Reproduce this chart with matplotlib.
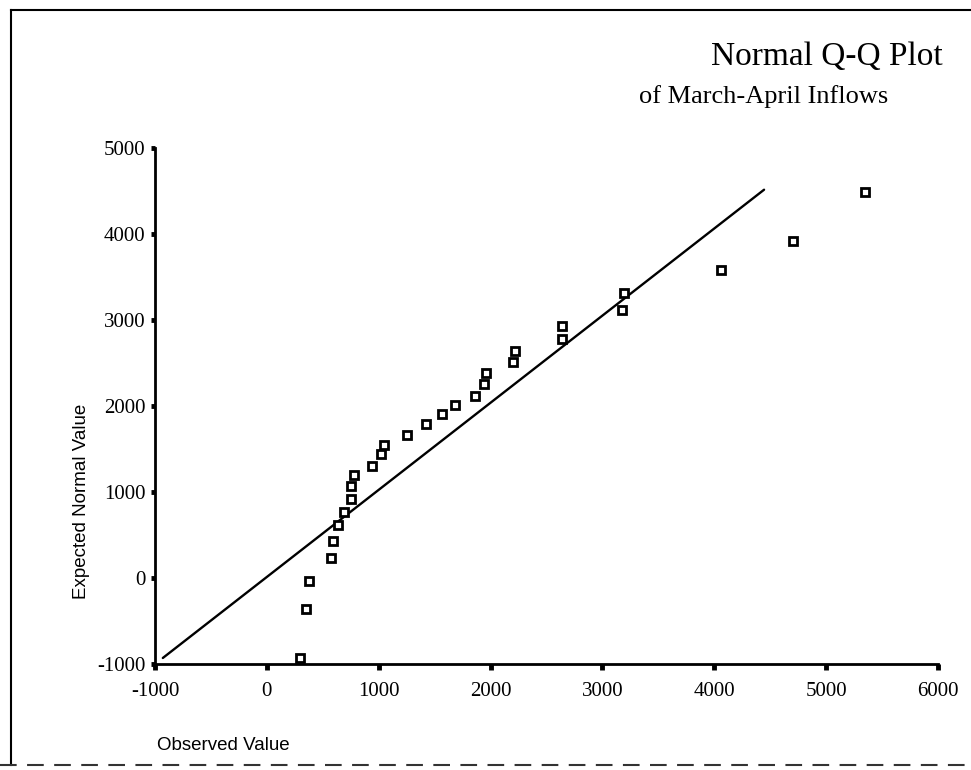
import matplotlib
matplotlib.use("Agg")
import matplotlib.pyplot as plt
from matplotlib.lines import Line2D

# Data
observed = [295, 346, 381, 569, 593, 632, 694, 748, 751, 775, 936, 1019, 1049,
            1257, 1419, 1562, 1683, 1857, 1937, 1955, 2199, 2214, 2637, 2640,
            3177, 3195, 4064, 4705, 5346]
expected = [-935, -360, -31, 229, 434, 620, 771, 915, 1066, 1198, 1306, 1438,
            1547, 1663, 1787, 1903, 2008, 2120, 2256, 2384, 2512, 2640, 2779,
            2934, 3112, 3318, 3585, 3919, 4492]
line_x = [-930, 4445]
line_y = [-930, 4515]
xticks = [-1000, 0, 1000, 2000, 3000, 4000, 5000, 6000]
yticks = [-1000, 0, 1000, 2000, 3000, 4000, 5000]

W, H = 971, 770
fig = plt.figure(figsize=(W / 100, H / 100), dpi=100)
ax = fig.add_axes([155 / W, 1 - 664 / H, (938 - 155) / W, (664 - 148) / H])

ax.plot(line_x, line_y, color="black", lw=1.7, solid_capstyle="round")
ax.plot(observed, expected, linestyle="none", marker="s", ms=5.8,
        mfc="white", mec="black", mew=2.0, clip_on=False, zorder=3)

ax.set_xlim(-1000, 6000)
ax.set_ylim(-1000, 5000)
ax.set_xticks(xticks)
ax.set_yticks(yticks)
ax.set_xticklabels([str(v) for v in xticks], family="Liberation Serif", fontsize=15)
ax.set_yticklabels([str(v) for v in yticks], family="Liberation Serif", fontsize=15)
ax.tick_params(axis="x", direction="out", length=4, width=3.5, pad=9)
ax.tick_params(axis="y", direction="out", length=3, width=3.5, pad=4)

for s in ["top", "right"]:
    ax.spines[s].set_visible(False)
for s in ["left", "bottom"]:
    ax.spines[s].set_linewidth(2.0)

# Titles and labels
fig.text(943 / W, 1 - 65 / H, "Normal Q-Q Plot", family="Liberation Serif",
         fontsize=24, ha="right", va="baseline")
fig.text(888 / W, 1 - 103 / H, "of March-April Inflows", family="Liberation Serif",
         fontsize=19, ha="right", va="baseline")
fig.text(157 / W, 1 - 750 / H, "Observed Value", family="Liberation Sans",
         fontsize=13.5, ha="left", va="baseline")
fig.text(81 / W, 1 - 501 / H, "Expected Normal Value", family="Liberation Sans",
         fontsize=13.5, rotation=90, ha="center", va="center")

# Page frame
fig.add_artist(Line2D([11 / W, 11 / W], [1 - 765 / H, 1 - 10 / H], color="black", lw=1.5,
                      transform=fig.transFigure))
fig.add_artist(Line2D([11 / W, 1.0], [1 - 10 / H, 1 - 10 / H], color="black", lw=1.5,
                      transform=fig.transFigure))
fig.add_artist(Line2D([0.0, 1.0], [1 - 765 / H, 1 - 765 / H], color="#333333", lw=1.5,
                      linestyle=(0, (8, 5)), transform=fig.transFigure))

fig.savefig("out.png", dpi=100)
